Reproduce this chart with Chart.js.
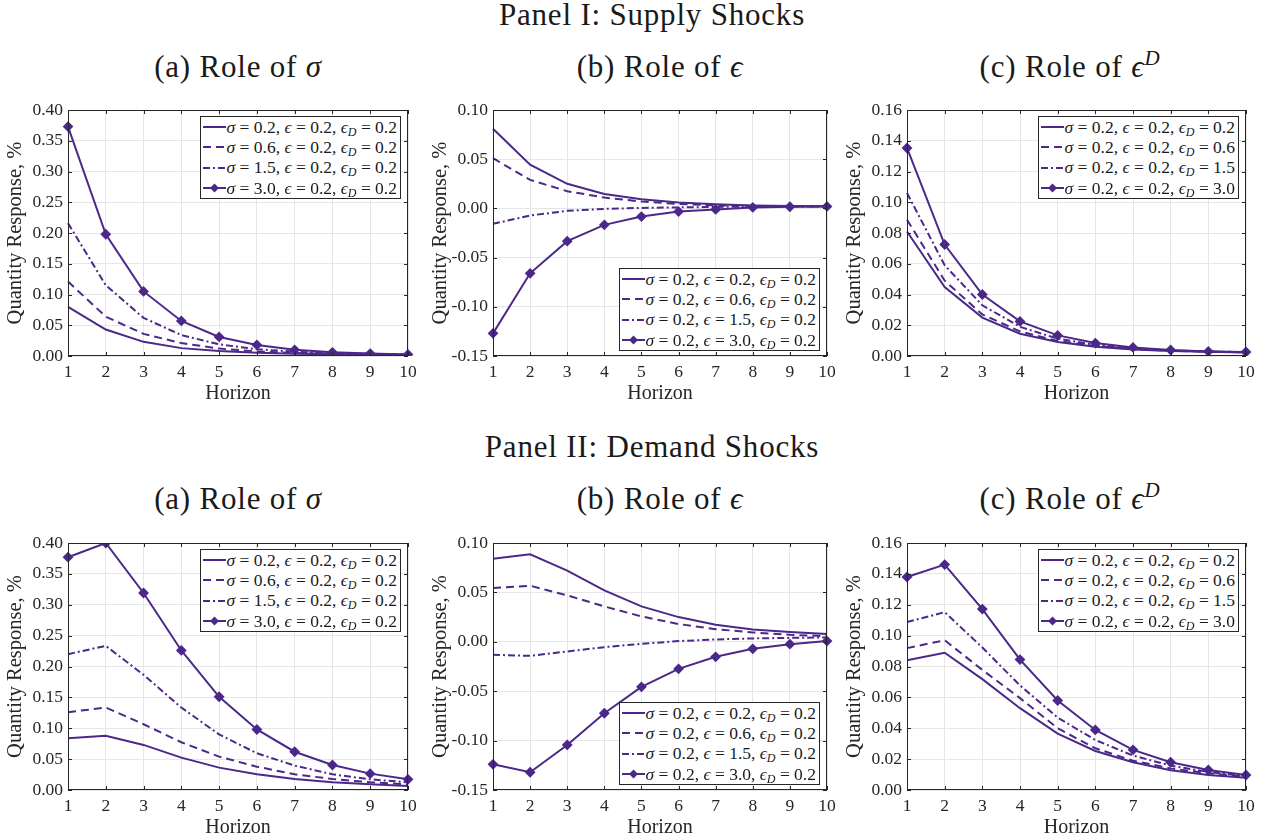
<!DOCTYPE html>
<html>
<head>
<meta charset="utf-8">
<title>Quantity responses</title>
<script src="https://cdn.jsdelivr.net/npm/chart.js@4/dist/chart.umd.min.js"></script>
<style>
  body { margin: 0; background: #fff; }
  #page { position: relative; width: 1271px; height: 840px; background: #fff;
          font-family: "Liberation Serif", "DejaVu Serif", serif; color: #1a1a1a; }
  .title { position: absolute; transform: translate(-50%, -50%); white-space: nowrap;
           font-size: 31px; letter-spacing: 0.8px; }
  .box { position: absolute; }
  .box canvas { position: absolute; left: 0; top: 0; }
  .legend { position: absolute; background: #fff; border: 1px solid #262626; font-size: 17.5px;
            padding: 0 3px 0 2px; color: #1a1a1a; }
  .legend .row { height: 20.3px; display: flex; align-items: center; white-space: nowrap; }
  .legend svg { margin-right: 1px; flex: none; }
  .legend sub, .title sup { font-style: italic; }
  .legend sub { font-size: 12px; vertical-align: -3px; line-height: 0; }
  .title sup { font-size: 21px; vertical-align: 12px; line-height: 0; }
</style>
</head>
<body>
<div id="page">
  <div class="title" style="left:652px;top:15px">Panel I: Supply Shocks</div>
  <div class="title" style="left:238px;top:67px">(a) Role of <i>σ</i></div>
  <div class="title" style="left:660px;top:67px">(b) Role of <i>ϵ</i></div>
  <div class="title" style="left:1070px;top:67px">(c) Role of <i>ϵ</i><sup>D</sup></div>
  <div class="title" style="left:652px;top:447px">Panel II: Demand Shocks</div>
  <div class="title" style="left:238px;top:499px">(a) Role of <i>σ</i></div>
  <div class="title" style="left:660px;top:499px">(b) Role of <i>ϵ</i></div>
  <div class="title" style="left:1070px;top:499px">(c) Role of <i>ϵ</i><sup>D</sup></div>
</div>
<script>
// horizons on the x axis
const horizons = ['1', '2', '3', '4', '5', '6', '7', '8', '9', '10'];
// the parameter that is varied takes these values, the others stay at 0.2
const paramValues = ['0.2', '0.6', '1.5', '3.0'];
const baseValue = '0.2';

// Panel I: supply shocks (one row per parameter value)
const supplySigma = [
  [0.080, 0.043, 0.023, 0.0128, 0.008, 0.0053, 0.0038, 0.0029, 0.0023, 0.002],
  [0.121, 0.064, 0.036, 0.021, 0.012, 0.0075, 0.005, 0.0035, 0.0027, 0.0022],
  [0.216, 0.115, 0.062, 0.034, 0.019, 0.011, 0.007, 0.0045, 0.0033, 0.0025],
  [0.373, 0.198, 0.105, 0.057, 0.031, 0.018, 0.010, 0.006, 0.004, 0.0025]
];
const supplyEps = [
  [0.081, 0.0445, 0.025, 0.0147, 0.0093, 0.006, 0.0042, 0.003, 0.0025, 0.0022],
  [0.051, 0.029, 0.0175, 0.011, 0.007, 0.0045, 0.0032, 0.0025, 0.0022, 0.002],
  [-0.0157, -0.0072, -0.0025, -0.0005, 0.0005, 0.001, 0.0015, 0.0018, 0.002, 0.002],
  [-0.127, -0.066, -0.0333, -0.0167, -0.0083, -0.0032, -0.001, 0.001, 0.0017, 0.002]
];
const supplyEpsD = [
  [0.081, 0.0448, 0.025, 0.0145, 0.0091, 0.006, 0.0043, 0.0033, 0.0027, 0.0023],
  [0.0886, 0.049, 0.027, 0.016, 0.0097, 0.0065, 0.0046, 0.0034, 0.0028, 0.0024],
  [0.106, 0.059, 0.033, 0.019, 0.0113, 0.0072, 0.005, 0.0036, 0.0029, 0.0025],
  [0.1353, 0.0725, 0.040, 0.0225, 0.0134, 0.0084, 0.0056, 0.0039, 0.003, 0.0026]
];

// Panel II: demand shocks
const demandSigma = [
  [0.0838, 0.088, 0.073, 0.0524, 0.0362, 0.0254, 0.0178, 0.0124, 0.0092, 0.0065],
  [0.126, 0.1335, 0.1065, 0.0773, 0.054, 0.0378, 0.0254, 0.0178, 0.0124, 0.0092],
  [0.220, 0.2335, 0.1865, 0.1335, 0.090, 0.0595, 0.0395, 0.0254, 0.0173, 0.0124],
  [0.377, 0.400, 0.319, 0.226, 0.151, 0.098, 0.062, 0.0405, 0.0265, 0.0173]
];
const demandEps = [
  [0.0841, 0.0885, 0.072, 0.052, 0.0358, 0.025, 0.0172, 0.0125, 0.0098, 0.0078],
  [0.0544, 0.0568, 0.047, 0.0358, 0.0257, 0.018, 0.0128, 0.0095, 0.0071, 0.0057],
  [-0.0132, -0.0142, -0.0098, -0.0054, -0.002, 0.0007, 0.0024, 0.0034, 0.004, 0.0044],
  [-0.124, -0.132, -0.1044, -0.0723, -0.0456, -0.0274, -0.0152, -0.0071, -0.0024, 0.0007]
];
const demandEpsD = [
  [0.0841, 0.0889, 0.0718, 0.053, 0.0365, 0.0253, 0.018, 0.0128, 0.0097, 0.008],
  [0.0919, 0.097, 0.0778, 0.0595, 0.040, 0.027, 0.019, 0.014, 0.0108, 0.0086],
  [0.1088, 0.1152, 0.0923, 0.0677, 0.0469, 0.0324, 0.0223, 0.0158, 0.0117, 0.0091],
  [0.138, 0.146, 0.1172, 0.0845, 0.058, 0.0389, 0.026, 0.018, 0.013, 0.0097]
];

// y axis ranges per column: [min, max, step]
const sigmaRange = [0, 0.40, 0.05];
const epsRange = [-0.15, 0.10, 0.05];
const epsDRange = [0, 0.16, 0.02];

const purple = '#4b2889';
const ink = '#262626';
const dashes = [[], [8, 5], [7, 3, 2, 3], []];
const serif = 'Liberation Serif';

// plot areas on the page
const cols = [{ left: 68, width: 340 }, { left: 493, width: 334 }, { left: 907, width: 339 }];
const rows = [{ top: 110, height: 246 }, { top: 543, height: 247 }];
// room left of, above, right of and below the plot area inside each canvas
const YW = 68, PT = 16, PR = 18, XH = 52;

const panels = [
  { data: supplySigma, range: sigmaRange, vary: 0, corner: 'ne', row: 0, col: 0 },
  { data: supplyEps, range: epsRange, vary: 1, corner: 'se', row: 0, col: 1 },
  { data: supplyEpsD, range: epsDRange, vary: 2, corner: 'ne', row: 0, col: 2 },
  { data: demandSigma, range: sigmaRange, vary: 0, corner: 'ne', row: 1, col: 0 },
  { data: demandEps, range: epsRange, vary: 1, corner: 'se', row: 1, col: 1 },
  { data: demandEpsD, range: epsDRange, vary: 2, corner: 'ne', row: 1, col: 2 }
];

// box around the axes with MATLAB style inward ticks
const frame = {
  id: 'frame',
  afterDraw(chart) {
    const { ctx, chartArea: a, scales: { x, y } } = chart;
    ctx.save();
    ctx.strokeStyle = ink;
    ctx.lineWidth = 1;
    ctx.beginPath();
    for (let i = 0; i < x.ticks.length; i++) {
      const px = Math.round(x.getPixelForTick(i)) + 0.5;
      ctx.moveTo(px, a.bottom); ctx.lineTo(px, a.bottom - 4);
      ctx.moveTo(px, a.top); ctx.lineTo(px, a.top + 4);
    }
    for (let i = 0; i < y.ticks.length; i++) {
      const py = Math.round(y.getPixelForTick(i)) + 0.5;
      ctx.moveTo(a.left, py); ctx.lineTo(a.left + 4, py);
      ctx.moveTo(a.right, py); ctx.lineTo(a.right - 4, py);
    }
    ctx.stroke();
    ctx.strokeRect(Math.round(a.left) + 0.5, Math.round(a.top) + 0.5,
                   Math.round(a.width) - 1, Math.round(a.height) - 1);
    ctx.restore();
  }
};

// html legend so the subscripts and italics stay real text
const paramNames = ['<i>σ</i>', '<i>ϵ</i>', '<i>ϵ</i><sub>D</sub>'];

function sampleSvg(ds) {
  const dash = ds.borderDash.length ? ` stroke-dasharray="${ds.borderDash.join(' ')}"` : '';
  let s = `<svg width="23" height="14"><line x1="0" y1="7" x2="23" y2="7" stroke="${ds.borderColor}" stroke-width="2"${dash}/>`;
  if (ds.pointRadius > 0) s += `<polygon points="11.5,2.5 16,7 11.5,11.5 7,7" fill="${ds.borderColor}"/>`;
  return s + '</svg>';
}

const htmlLegend = {
  id: 'htmlLegend',
  afterUpdate(chart, args, opts) {
    const box = chart.canvas.parentNode;
    let el = box.querySelector('.legend');
    if (!el) { el = document.createElement('div'); el.className = 'legend'; box.appendChild(el); }
    el.innerHTML = chart.data.datasets.map(ds => {
      const text = ds.params.map((v, j) => `${paramNames[j]} = ${v}`).join(', ');
      return `<div class="row">${sampleSvg(ds)}<span>${text}</span></div>`;
    }).join('');
    const a = chart.chartArea;
    el.style.right = (chart.width - a.right + 7) + 'px';
    if (opts.corner === 'se') {
      el.style.top = (a.bottom - 5 - el.offsetHeight) + 'px';
    } else {
      el.style.top = (a.top + 6) + 'px';
    }
  }
};

const page = document.getElementById('page');

panels.forEach(p => {
  const c = cols[p.col], r = rows[p.row];
  const box = document.createElement('div');
  box.className = 'box';
  const w = YW + c.width + PR, h = PT + r.height + XH;
  box.style.left = (c.left - YW) + 'px';
  box.style.top = (r.top - PT) + 'px';
  box.style.width = w + 'px';
  box.style.height = h + 'px';
  const canvas = document.createElement('canvas');
  canvas.width = w; canvas.height = h;
  box.appendChild(canvas);
  page.appendChild(box);

  const datasets = p.data.map((vals, i) => ({
    label: paramValues[i],
    params: [0, 1, 2].map(j => (j === p.vary ? paramValues[i] : baseValue)),
    data: vals,
    borderColor: purple,
    backgroundColor: purple,
    borderWidth: 2,
    borderDash: dashes[i],
    pointStyle: 'rectRot',
    pointRadius: i === 3 ? 4 : 0,
    pointHoverRadius: i === 3 ? 4 : 0,
    tension: 0
  }));

  new Chart(canvas, {
    type: 'line',
    data: { labels: horizons, datasets: datasets },
    options: {
      responsive: false,
      animation: false,
      devicePixelRatio: 1,
      layout: { padding: { top: PT, right: PR, left: 0, bottom: 0 } },
      plugins: {
        legend: { display: false },
        tooltip: { enabled: false },
        htmlLegend: { corner: p.corner }
      },
      scales: {
        x: {
          offset: false,
          grid: { color: '#e6e6e6', drawTicks: false },
          border: { display: false },
          ticks: { color: ink, padding: 6, maxRotation: 0, font: { family: serif, size: 17.5 } },
          title: { display: true, text: 'Horizon', color: ink, padding: { top: 0, bottom: 2 },
                   font: { family: serif, size: 20 } },
          afterFit(scale) { scale.height = XH; }
        },
        y: {
          min: p.range[0], max: p.range[1],
          grid: { color: '#e6e6e6', drawTicks: false },
          border: { display: false },
          ticks: { stepSize: p.range[2], color: ink, padding: 5,
                   font: { family: serif, size: 17.5 },
                   callback: v => v.toFixed(2) },
          title: { display: true, text: 'Quantity Response, %', color: ink, padding: { top: 3, bottom: 0 },
                   font: { family: serif, size: 20.5 } },
          afterFit(scale) { scale.width = YW; }
        }
      }
    },
    plugins: [frame, htmlLegend]
  });
});
</script>
</body>
</html>
